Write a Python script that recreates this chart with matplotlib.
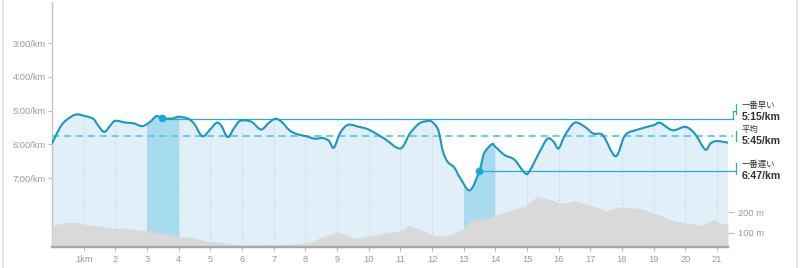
import matplotlib
matplotlib.use("Agg")
import matplotlib.pyplot as plt
from matplotlib.path import Path
from matplotlib.patches import PathPatch
from matplotlib.lines import Line2D
import numpy as np

# pace per distance (km, minutes per km)
pace_km = [0.0, 0.3, 0.6, 0.8, 1.0, 1.3, 1.45, 1.65, 1.85, 2.0, 2.3, 2.6, 2.85,
           3.1, 3.3, 3.5, 3.8, 4.0, 4.3, 4.5, 4.75, 5.0, 5.2, 5.35, 5.55, 5.75,
           5.95, 6.3, 6.6, 6.85, 7.05, 7.25, 7.5, 7.75, 8.0, 8.3, 8.55, 8.75,
           8.9, 9.1, 9.35, 9.7, 10.0, 10.5, 11.0, 11.3, 11.6, 11.85, 12.0,
           12.2, 12.35, 12.5, 12.7, 12.9, 13.2, 13.5, 13.65, 13.9, 14.0, 14.3,
           14.6, 14.95, 15.1, 15.4, 15.65, 15.85, 16.0, 16.2, 16.5, 16.8, 17.1,
           17.4, 17.8, 18.1, 18.5, 19.0, 19.2, 19.6, 20.0, 20.3, 20.63, 20.8,
           21.0, 21.35]
pace_min = [5.97, 5.43, 5.18, 5.11, 5.15, 5.24, 5.43, 5.63, 5.43, 5.30, 5.35,
            5.38, 5.46, 5.33, 5.16, 5.23, 5.23, 5.18, 5.24, 5.40, 5.76, 5.55,
            5.36, 5.45, 5.78, 5.52, 5.30, 5.33, 5.56, 5.36, 5.24, 5.33, 5.58,
            5.70, 5.75, 5.83, 5.81, 5.90, 6.10, 5.66, 5.42, 5.48, 5.56, 5.83,
            6.12, 5.68, 5.38, 5.31, 5.33, 5.58, 6.22, 6.52, 6.68, 7.01, 7.36,
            6.78, 6.26, 5.99, 6.07, 6.32, 6.45, 6.86, 6.76, 6.22, 5.83, 5.93,
            6.12, 5.73, 5.36, 5.46, 5.68, 5.73, 6.35, 5.73, 5.56, 5.43, 5.36,
            5.58, 5.48, 5.68, 6.15, 5.97, 5.90, 5.95]

# elevation profile (km, metres)
elev_km = [0.0, 0.25, 0.5, 0.75, 1.0, 1.25, 1.5, 1.75, 2.0, 2.25, 2.5, 2.75,
           3.0, 3.25, 3.5, 3.75, 4.0, 4.25, 4.5, 4.75, 5.0, 5.25, 5.5, 5.75,
           6.0, 6.5, 7.0, 7.5, 8.0, 8.25, 8.5, 8.75, 9.0, 9.25, 9.5, 9.75,
           10.0, 10.25, 10.5, 10.75, 11.0, 11.15, 11.3, 11.45, 11.6, 11.8,
           12.0, 12.25, 12.5, 12.75, 13.0, 13.2, 13.4, 13.6, 13.8, 14.0, 14.25,
           14.5, 14.75, 15.0, 15.2, 15.35, 15.5, 15.75, 16.0, 16.25, 16.5,
           16.75, 17.0, 17.25, 17.5, 17.75, 18.0, 18.25, 18.5, 18.75, 19.0,
           19.25, 19.5, 19.75, 20.0, 20.25, 20.5, 20.75, 20.9, 21.0, 21.2, 21.35]
elev_m = [127, 140, 146, 144, 138, 132, 128, 122, 117, 118, 114, 108, 105, 100,
          97, 90, 80, 75, 68, 60, 52, 50, 45, 40, 37, 36, 38, 40, 45, 55, 72,
          85, 97, 90, 70, 72, 80, 85, 95, 100, 105, 118, 132, 120, 112, 100, 84,
          80, 82, 95, 115, 150, 165, 160, 172, 180, 192, 205, 215, 228, 255,
          272, 262, 255, 242, 240, 250, 240, 226, 218, 200, 212, 218, 218, 214,
          205, 190, 178, 160, 150, 142, 138, 130, 145, 160, 148, 140, 137]

fastest_km, fastest_pace, fastest_label = 3, 5.25, "5:15/km"
slowest_km, slowest_pace, slowest_label = 13, 6.783, "6:47/km"
avg_pace, avg_label = 5.75, "5:45/km"

pace_ticks = [3, 4, 5, 6, 7]
pace_tick_labels = ["3:00/km", "4:00/km", "5:00/km", "6:00/km", "7:00/km"]
km_ticks = list(range(1, 22))
km_tick_labels = ["1km"] + [str(k) for k in range(2, 22)]
elev_ticks = [100, 200]
elev_tick_labels = ["100 m", "200 m"]

LINE, DOT, REF, AVG = "#1b98c2", "#19a6dc", "#2aaad8", "#5cc9ea"
FILL, BAND, GROUND = "#e0eff8", "#a7dbee", "#d9d9d9"
TICK, GRID = "#9a9a9a", "#c5ced4"
JP = ["Noto Sans CJK JP", "DejaVu Sans"]
plt.rcParams["font.family"] = ["Liberation Sans", "Noto Sans CJK JP", "DejaVu Sans"]

W, H = 800, 268
fig = plt.figure(figsize=(W / 100, H / 100), dpi=100)
L, R, T, B = 52, 728, 2, 247
ax = fig.add_axes([L / W, 1 - B / H, (R - L) / W, (B - T) / H])
XMAX = pace_km[-1]
YBOT, YTOP = 9.04, 1.78
ax.set_xlim(0, XMAX)
ax.set_ylim(YBOT, YTOP)


def px_to_x(px):
    return (px - L) / (R - L) * XMAX


def fpt(px, py):
    return px / W, 1 - py / H


# smooth pace curve as cubic Bezier segments through the readings
P = np.column_stack([pace_km, pace_min])
Pp = np.vstack([P[0], P, P[-1]])
verts, codes = [tuple(P[0])], [Path.MOVETO]
for i in range(len(P) - 1):
    p0, p1, p2, p3 = Pp[i], Pp[i + 1], Pp[i + 2], Pp[i + 3]
    verts += [tuple(p1 + (p2 - p0) / 6), tuple(p2 - (p3 - p1) / 6), tuple(p2)]
    codes += [Path.CURVE4] * 3
curve = Path(verts, codes)
area = Path(verts + [(XMAX, YBOT + 1), (0, YBOT + 1), (0, 0)],
            codes + [Path.LINETO, Path.LINETO, Path.CLOSEPOLY])

fill = PathPatch(area, facecolor=FILL, edgecolor="none", zorder=1)
ax.add_patch(fill)
for k in (fastest_km, slowest_km):
    sp = ax.axvspan(k, k + 1, color=BAND, lw=0, zorder=2)
    sp.set_clip_path(fill)
vl = ax.vlines(km_ticks, YBOT, YTOP, colors=GRID, linestyles=(0, (1, 2.2)), lw=0.8, zorder=2)
vl.set_clip_path(fill)
ax.add_patch(PathPatch(curve, facecolor="none", edgecolor=LINE, lw=1.5, zorder=5,
                       capstyle="round"))

# reference lines
xr = px_to_x(733)
xt = px_to_x(736)
ax.plot([0, xr], [avg_pace, avg_pace], color=AVG, lw=1.3, ls=(0, (4, 2.6)),
        clip_on=False, zorder=4)
ax.plot([fastest_km + 0.5, xr], [fastest_pace] * 2, color=REF, lw=0.9, clip_on=False, zorder=4)
ax.plot([slowest_km + 0.5, xt], [slowest_pace] * 2, color=REF, lw=0.9, clip_on=False, zorder=4)
ax.plot([fastest_km + 0.47, slowest_km + 0.5], [fastest_pace - 0.02, slowest_pace], "o",
        color=DOT, ms=5.5, mec="none", zorder=6, clip_on=False)

# small brackets beside the labels
for xs, ys in [([733, 733, 736], [119, 111, 111]), ([736, 736], [104, 114]),
               ([736, 736], [131, 141]), ([736, 736], [163, 174])]:
    fig.add_artist(Line2D([x / W for x in xs], [1 - y / H for y in ys],
                          color=REF, lw=0.9))

for py, s, size, bold, fam in [
        (105, "一番早い", 6.0, False, JP), (117.5, fastest_label, 7.6, True, None),
        (129, "平均", 6.0, False, JP), (140.5, avg_label, 7.6, True, None),
        (164.5, "一番遅い", 6.0, False, JP), (176, slowest_label, 7.6, True, None)]:
    kw = {"family": fam} if fam else {}
    fig.text(*fpt(742, py), s, fontsize=size, color="#333333",
             fontweight="bold" if bold else "normal", ha="left", va="center", **kw)

# axes styling
for s in ("top", "right"):
    ax.spines[s].set_visible(False)
ax.spines["left"].set_color("#c4c4c4")
ax.spines["left"].set_linewidth(1.0)
ax.spines["bottom"].set_color("#a8a8a8")
ax.spines["bottom"].set_linewidth(1.6)
ax.set_yticks(pace_ticks, pace_tick_labels)
ax.set_xticks(km_ticks, km_tick_labels)
ax.tick_params(axis="y", length=3, width=0.8, color="#bbbbbb", labelcolor=TICK,
               labelsize=6.7, pad=1.5)
ax.tick_params(axis="x", length=3, width=0.8, color="#bbbbbb", labelcolor=TICK,
               labelsize=6.7, pad=2.5)

# elevation on a second scale
ax2 = ax.twinx()
ax2.set_ylim(31, 1214)
ax2.fill_between(elev_km, 0, elev_m, color=GROUND, lw=0, zorder=1)
ax2.plot(elev_km, elev_m, color="#cfd8dc", lw=0.6, zorder=2)
for s in ax2.spines.values():
    s.set_visible(False)
ax2.set_yticks(elev_ticks, elev_tick_labels)
ax2.tick_params(axis="y", length=4, width=0.8, color="#bbbbbb", labelcolor=TICK,
                labelsize=6.7, pad=3)
ax2.set_xlim(0, XMAX)

# bottom line redrawn above the ground fill
ax2.plot([0, XMAX], [31, 31], color="#a8a8a8", lw=1.6, clip_on=False, zorder=5)

# container borders
for px in (3, 797):
    fig.add_artist(Line2D([px / W] * 2, [0, 1], color="#e2e2e2", lw=1.2))

fig.savefig("out.png", dpi=100)
